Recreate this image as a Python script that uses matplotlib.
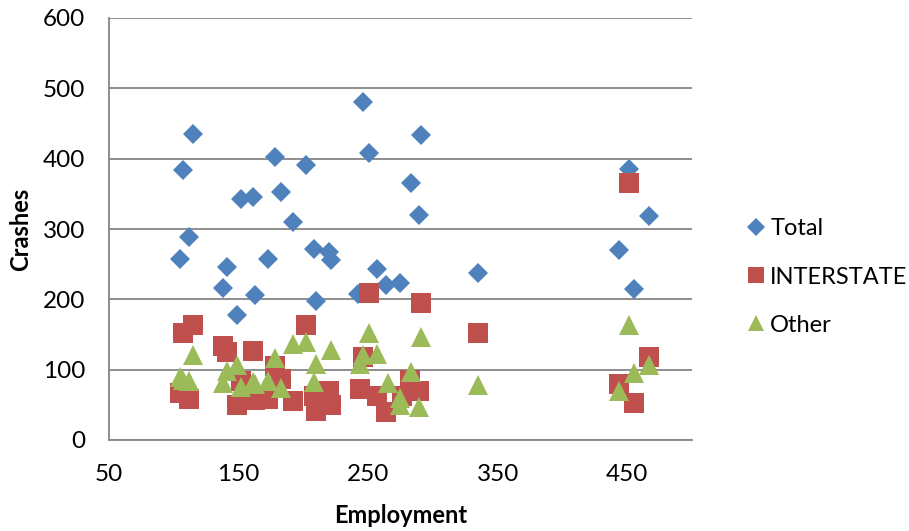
import matplotlib
matplotlib.use("Agg")
import matplotlib.pyplot as plt

# crashes vs employment, one marker series per crash type
tot_x = [105, 107, 112, 115, 138, 141, 149, 152, 161, 163, 173, 178, 183, 192, 202, 208, 210,
         220, 221, 242, 246, 251, 257, 264, 275, 283, 289, 291, 335, 444, 451, 455, 467]
tot_y = [257, 384, 288, 435, 216, 246, 178, 343, 345, 206, 257, 403, 352, 310, 391, 272, 197,
         268, 256, 208, 480, 408, 243, 220, 223, 365, 320, 434, 237, 270, 386, 214, 318]

int_x = [105, 107, 112, 115, 138, 141, 149, 152, 161, 163, 173, 178, 183, 192, 202, 208, 210,
         220, 221, 244, 246, 251, 257, 264, 276, 282, 289, 291, 335, 444, 451, 455, 467]
int_y = [67, 152, 59, 164, 133, 125, 50, 84, 126, 57, 58, 105, 87, 55, 163, 62, 41,
         69, 50, 73, 118, 209, 62, 40, 63, 86, 69, 195, 152, 80, 366, 52, 118]

oth_x = [105, 107, 112, 115, 138, 141, 149, 152, 161, 163, 173, 178, 183, 192, 202, 208, 210,
         221, 244, 246, 251, 257, 265, 275, 275, 283, 289, 291, 335, 444, 451, 455, 467]
oth_y = [89, 86, 84, 121, 81, 98, 107, 76, 83, 80, 84, 117, 74, 137, 139, 82, 108,
         128, 108, 121, 152, 122, 81, 60, 50, 96, 47, 146, 78, 69, 164, 95, 107]

x_ticks = [50, 150, 250, 350, 450]
y_ticks = [0, 100, 200, 300, 400, 500, 600]

plt.rcParams['font.family'] = ['Lato', 'DejaVu Sans']

fig = plt.figure(figsize=(9.09, 5.31), dpi=100)
ax = fig.add_axes([109 / 909, 91 / 531, 583 / 909, 422 / 531])

ax.plot(tot_x, tot_y, 'D', color='#4F81BD', markersize=10.5, markeredgewidth=0, label='Total', zorder=3)
ax.plot(int_x, int_y, 's', color='#C0504D', markersize=14, markeredgewidth=0, label='INTERSTATE', zorder=3)
ax.plot(oth_x, oth_y, '^', color='#9BBB59', markersize=14, markeredgewidth=0, label='Other', zorder=3)

ax.set_xlim(50, 500)
ax.set_ylim(0, 600)
ax.set_xticks(x_ticks)
ax.set_yticks(y_ticks)
ax.yaxis.grid(True, color='#868686', linewidth=1.3)
ax.set_axisbelow(True)

for side in ['top', 'right']:
    ax.spines[side].set_visible(False)
for side in ['left', 'bottom']:
    ax.spines[side].set_color('#868686')
    ax.spines[side].set_linewidth(1.3)

ax.tick_params(length=0, labelsize=17.5, pad=17)

ax.set_xlabel('Employment', fontsize=17, fontweight='bold', labelpad=14)
ax.set_ylabel('Crashes', fontsize=17, fontweight='bold', labelpad=8)

leg = fig.legend(loc='center left', bbox_to_anchor=(743 / 909, 1 - 277 / 531), frameon=False,
                 fontsize=17, handletextpad=0.05, labelspacing=1.15, handlelength=1.1,
                 markerscale=0.85, borderpad=0, borderaxespad=0)

fig.savefig('out.png', dpi=100)
